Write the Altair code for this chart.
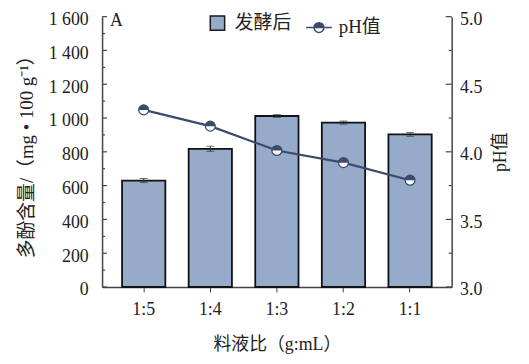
import altair as alt
import pandas as pd

ratios = ["1:5", "1:4", "1:3", "1:2", "1:1"]
polyphenol = [630, 818, 1012, 973, 903]
poly_err = [12, 15, 8, 9, 11]
ph_values = [4.31, 4.19, 4.01, 3.92, 3.79]

left_major = [0, 200, 400, 600, 800, 1000, 1200, 1400, 1600]
left_minor = [100, 300, 500, 700, 900, 1100, 1300, 1500]
right_major = [3.0, 3.5, 4.0, 4.5, 5.0]
right_minor = [3.25, 3.75, 4.25, 4.75]

BAR = "#95abc9"
NAVY = "#3b4a6d"
AX = "#444444"
SERIF = "Liberation Serif, Noto Sans CJK SC"

df = pd.DataFrame({
    "ratio": ratios,
    "poly": polyphenol,
    "lo": [p - e for p, e in zip(polyphenol, poly_err)],
    "hi": [p + e for p, e in zip(polyphenol, poly_err)],
    "ph": ph_values,
    "s1": ["发酵后"] * 5,
    "s2": ["pH值"] * 5,
})

W, H = 353, 273

xaxis = alt.Axis(title="料液比（g:mL）", labelAngle=0, labelFontSize=18,
                 titleFontSize=18, labelPadding=9, titlePadding=17,
                 tickSize=5, labelFont=SERIF, titleFont=SERIF,
                 domainColor=AX, tickColor=AX, labelColor="#222",
                 titleColor="#222", titleFontWeight="normal")
xscale = alt.Scale(paddingInner=0.35, paddingOuter=0.3)


def xenc():
    return alt.X("ratio:N", sort=ratios, scale=xscale, axis=xaxis)


yL_scale = alt.Scale(domain=[0, 1600], nice=False)
yR_scale = alt.Scale(domain=[3.0, 5.0], nice=False)

yL_axis = alt.Axis(title="多酚含量/（mg • 100 g⁻¹）", values=left_major,
                   labelExpr="replace(format(datum.value, ','), ',', ' ')",
                   labelOverlap=False, labelFlush=False, labelOffset=3,
                   ticks=False, labelPadding=14, labelFontSize=18, titleFontSize=19,
                   labelFont=SERIF, titleFont=SERIF, domainColor=AX, labelColor="#222",
                   titleColor="#222", titleFontWeight="normal", titlePadding=12,
                   grid=False)
yR_axis = alt.Axis(title="pH值", orient="right", values=right_major, format=".1f",
                   labelOverlap=False, labelFlush=False, labelOffset=3,
                   ticks=False, labelPadding=8, labelFontSize=18, titleFontSize=18,
                   labelFont=SERIF, titleFont=SERIF, domainColor=AX, labelColor="#222",
                   titleColor="#222", titleFontWeight="normal", titleAngle=270,
                   titleBaseline="top", titlePadding=10, grid=False)


def yL(field):
    return alt.Y(field, scale=yL_scale, axis=yL_axis)


def yR(field):
    return alt.Y(field, scale=yR_scale, axis=yR_axis)


base = alt.Chart(df)

bars = base.mark_bar(stroke="#111111", strokeWidth=1.8).encode(
    x=xenc(),
    y=yL("poly:Q"),
    fill=alt.Fill("s1:N", scale=alt.Scale(range=[BAR]),
                  legend=alt.Legend(title=None, orient="none", legendX=107, legendY=-3,
                                    symbolType="square", symbolSize=210,
                                    symbolStrokeColor="#1a1a1a", symbolStrokeWidth=1.5,
                                    labelFont=SERIF, labelFontSize=19, labelColor="#222",
                                    labelOffset=8, padding=0)),
)
err = base.mark_rule(color="#333", strokeWidth=1).encode(
    x=xenc(), y=yL("lo:Q"), y2="hi:Q")
caps_hi = base.mark_tick(color="#333", thickness=1, size=8).encode(
    x=xenc(), y=yL("hi:Q"))
caps_lo = base.mark_tick(color="#333", thickness=1, size=8).encode(
    x=xenc(), y=yL("lo:Q"))

lmaj = alt.Chart(pd.DataFrame({"v": left_major})).mark_rule(color=AX, strokeWidth=1.2).encode(
    y=yL("v:Q"), x=alt.value(0), x2=alt.value(5))
lmin = alt.Chart(pd.DataFrame({"v": left_minor})).mark_rule(color=AX, strokeWidth=1.2).encode(
    y=yL("v:Q"), x=alt.value(0), x2=alt.value(3))

left = alt.layer(bars, err, caps_hi, caps_lo, lmaj, lmin)

line = base.mark_line(strokeWidth=2.2).encode(
    x=xenc(),
    y=yR("ph:Q"),
    stroke=alt.Stroke("s2:N", scale=alt.Scale(range=[NAVY]),
                      legend=alt.Legend(title=None, orient="none", legendX=205, legendY=-3,
                                        symbolType="M -1 0 L -0.38 0 M 0.38 0 L 1 0 M -0.38 0 A 0.38 0.38 0 0 1 0.38 0 Z M 0.38 0 A 0.38 0.38 0 0 1 -0.38 0 A 0.38 0.38 0 0 0 0.38 0",
                                        symbolSize=676, symbolFillColor=NAVY,
                                        symbolStrokeColor=NAVY, symbolStrokeWidth=1.5,
                                        labelFont=SERIF, labelFontSize=19, labelColor="#222",
                                        labelOffset=6, padding=0)),
)
pts_white = base.mark_point(shape="circle", filled=True, fill="white", stroke=NAVY,
                            strokeWidth=1.3, size=100, opacity=1).encode(
    x=xenc(), y=yR("ph:Q"))
pts_half = base.mark_point(shape="M -1 0 A 1 1 0 0 1 1 0 Z", filled=True, fill=NAVY,
                           strokeWidth=0, size=100, opacity=1).encode(
    x=xenc(), y=yR("ph:Q"))

rmaj = alt.Chart(pd.DataFrame({"v": right_major})).mark_rule(color=AX, strokeWidth=1.2).encode(
    y=yR("v:Q"), x=alt.value(W), x2=alt.value(W - 6))
rmin = alt.Chart(pd.DataFrame({"v": right_minor})).mark_rule(color=AX, strokeWidth=1.2).encode(
    y=yR("v:Q"), x=alt.value(W), x2=alt.value(W - 3))

right = alt.layer(line, pts_white, pts_half, rmaj, rmin)

label_a = alt.Chart(pd.DataFrame({"t": ["A"]})).mark_text(
    font=SERIF, fontSize=18, color="#222", align="left", baseline="top").encode(
    text="t:N", x=alt.value(8), y=alt.value(-5))

chart = alt.layer(left, right, label_a).resolve_scale(
    y="independent", fill="independent", stroke="independent"
).properties(
    width=W, height=H,
    autosize=alt.AutoSizeParams(type="none"),
    padding={"left": 95, "top": 7, "right": 70, "bottom": 74},
).configure_view(stroke=None).configure_axis(domainWidth=1.5)

chart.save("out.html", embed_options={"renderer": "svg", "actions": False})
